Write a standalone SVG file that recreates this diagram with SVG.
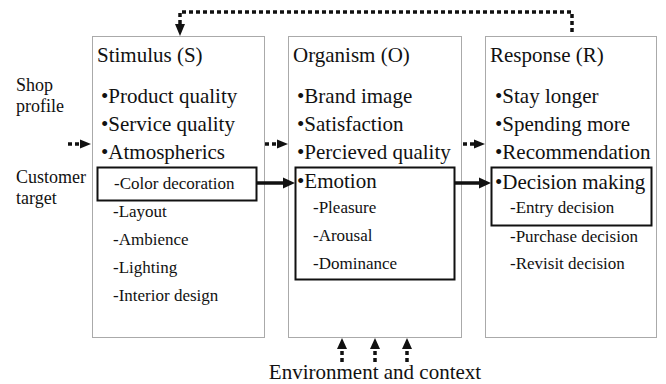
<svg xmlns="http://www.w3.org/2000/svg" width="666" height="384" viewBox="0 0 666 384" font-family="'Liberation Serif', 'Times New Roman', 'DejaVu Serif', serif">
<style>
text{font-family:'Liberation Serif','Times New Roman','DejaVu Serif',serif;fill:#111}
.t{font-size:21px}
.s{font-size:17px}
.l{font-size:18px}
.outer{fill:none;stroke:#555;stroke-width:1;stroke-dasharray:1 1}
.inner{fill:none;stroke:#111;stroke-width:2}
.dot{fill:none;stroke:#111;stroke-width:3.5;stroke-dasharray:4 3}
.sol{fill:none;stroke:#111;stroke-width:3.5}
.head{fill:#111}
</style>
<rect width="666" height="384" fill="#fff"/>
<g id="labels-left">
<text class="l" x="16" y="91">Shop</text>
<text class="l" x="16" y="112">profile</text>
<text class="l" x="16" y="183">Customer</text>
<text class="l" x="16" y="204">target</text>
</g>
<g id="stimulus">
<rect class="outer" x="92.5" y="36.5" width="172" height="301"/>
<text class="t" x="97" y="62">Stimulus (S)</text>
<text class="t" x="101" y="103">•Product quality</text>
<text class="t" x="101" y="131">•Service quality</text>
<text class="t" x="101" y="159">•Atmospherics</text>
<rect class="inner" x="97.5" y="167.5" width="159" height="33"/>
<text class="s" x="114" y="189">-Color decoration</text>
<text class="s" x="113" y="217">-Layout</text>
<text class="s" x="113" y="245">-Ambience</text>
<text class="s" x="113" y="273">-Lighting</text>
<text class="s" x="113" y="301">-Interior design</text>
</g>
<g id="organism">
<rect class="outer" x="288.5" y="36.5" width="173" height="301"/>
<text class="t" x="293" y="62">Organism (O)</text>
<text class="t" x="297" y="103">•Brand image</text>
<text class="t" x="297" y="131">•Satisfaction</text>
<text class="t" x="297" y="159">•Percieved quality</text>
<rect class="inner" x="295.5" y="167.5" width="159" height="112"/>
<text class="t" x="297" y="188">•Emotion</text>
<text class="s" x="313" y="213">-Pleasure</text>
<text class="s" x="313" y="241">-Arousal</text>
<text class="s" x="313" y="269">-Dominance</text>
</g>
<g id="response">
<rect class="outer" x="485.5" y="36.5" width="171" height="301"/>
<text class="t" x="490" y="62">Response (R)</text>
<text class="t" x="495" y="103">•Stay longer</text>
<text class="t" x="495" y="131">•Spending more</text>
<text class="t" x="495" y="159">•Recommendation</text>
<rect class="inner" x="491.5" y="167.5" width="160" height="58"/>
<text class="t" x="495" y="189">•Decision making</text>
<text class="s" x="510" y="213">-Entry decision</text>
<text class="s" x="510" y="242">-Purchase decision</text>
<text class="s" x="510" y="269">-Revisit decision</text>
</g>
<g id="environment">
<text class="t" x="375" y="379" text-anchor="middle">Environment and context</text>
</g>
<g id="connectors">
<line class="dot" x1="68" y1="144" x2="81" y2="144"/>
<polygon class="head" points="80,139.5 91,144 80,148.5"/>
<line class="dot" x1="265" y1="144" x2="278" y2="144"/>
<polygon class="head" points="277,139.5 288,144 277,148.5"/>
<line class="dot" x1="463" y1="144" x2="475" y2="144"/>
<polygon class="head" points="474,139.5 485,144 474,148.5"/>
<line class="sol" x1="257" y1="183" x2="285" y2="183"/>
<polygon class="head" points="283,177.5 295,183 283,188.5"/>
<line class="sol" x1="455" y1="183" x2="481" y2="183"/>
<polygon class="head" points="479,177.5 491,183 479,188.5"/>
<path class="dot" d="M180,24 V12 H572 V34"/>
<polygon class="head" points="175,24 185,24 180,36"/>
<line class="dot" x1="342" y1="362" x2="342" y2="347"/>
<polygon class="head" points="337,349 347,349 342,338"/>
<line class="dot" x1="375" y1="362" x2="375" y2="347"/>
<polygon class="head" points="370,349 380,349 375,338"/>
<line class="dot" x1="407" y1="362" x2="407" y2="347"/>
<polygon class="head" points="402,349 412,349 407,338"/>
</g>
</svg>
